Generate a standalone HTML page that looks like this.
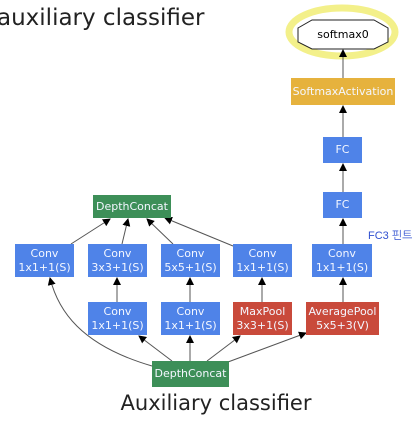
<!DOCTYPE html>
<html><head><style>
body{margin:0;width:412px;height:429px;background:#fff;overflow:hidden;position:relative;font-family:"DejaVu Sans","Liberation Sans",sans-serif}
.b{position:absolute;color:#f4f7ff;font-size:11px;text-align:center;display:flex;flex-direction:column;justify-content:center;line-height:14px;white-space:nowrap}
.bl{background:#4f83e8}.g{background:#3d8f58}.r{background:#c94a3b}.o{background:#e6b23d}
</style></head><body>
<div style="position:absolute;left:-3px;top:5px;font-size:23px;color:#222;white-space:nowrap">auxiliary classifier</div>
<svg width="412" height="429" style="position:absolute;left:0;top:0">
<defs><marker id="a" markerWidth="8" markerHeight="8" refX="7" refY="4" orient="auto" markerUnits="userSpaceOnUse"><path d="M0,0L8,4L0,8z" fill="#000"/></marker></defs>
<ellipse cx="342" cy="32" rx="53" ry="24" fill="none" stroke="#f3f08a" stroke-width="7"/>
<polygon points="312,20 374,20 388,28 388,42 374,49 312,49 298,42 298,28" fill="#fff" stroke="#222" stroke-width="1"/>
<text x="343" y="38" font-size="11" text-anchor="middle" font-family="DejaVu Sans,sans-serif">softmax0</text>
<g stroke="#555" stroke-width="1" fill="none" marker-end="url(#a)">
<line x1="343" y1="78" x2="343" y2="50"/>
<line x1="343" y1="137" x2="343" y2="106"/>
<line x1="343" y1="192" x2="343" y2="164"/>
<line x1="343" y1="244" x2="343" y2="219"/>
<line x1="343" y1="302" x2="343" y2="278"/>
<line x1="262" y1="302" x2="262" y2="278"/>
<line x1="190" y1="302" x2="190" y2="278"/>
<line x1="117" y1="302" x2="117" y2="278"/>
<line x1="71" y1="244" x2="110" y2="219"/>
<line x1="122" y1="244" x2="128" y2="219"/>
<line x1="173" y1="244" x2="147" y2="219"/>
<line x1="233" y1="246" x2="165" y2="218"/>
<line x1="190" y1="361" x2="190" y2="336"/>
<line x1="172" y1="361" x2="139" y2="336"/>
<line x1="207" y1="361" x2="240" y2="336"/>
<line x1="228" y1="362" x2="306" y2="333"/>
<path d="M152,366 C80,345 58,310 50,278"/>
</g>
</svg>
<div class="b o" style="left:291px;top:78px;width:104px;height:27px">SoftmaxActivation</div>
<div class="b bl" style="left:323px;top:137px;width:39px;height:26px">FC</div>
<div class="b bl" style="left:323px;top:192px;width:39px;height:26px">FC</div>
<div class="b g" style="left:93px;top:195px;width:78px;height:23px">DepthConcat</div>
<div class="b bl" style="left:15px;top:244px;width:59px;height:33px">Conv<br>1x1+1(S)</div>
<div class="b bl" style="left:88px;top:244px;width:59px;height:33px">Conv<br>3x3+1(S)</div>
<div class="b bl" style="left:161px;top:244px;width:59px;height:33px">Conv<br>5x5+1(S)</div>
<div class="b bl" style="left:233px;top:244px;width:59px;height:33px">Conv<br>1x1+1(S)</div>
<div class="b bl" style="left:312px;top:244px;width:60px;height:33px">Conv<br>1x1+1(S)</div>
<div class="b bl" style="left:88px;top:302px;width:59px;height:33px">Conv<br>1x1+1(S)</div>
<div class="b bl" style="left:161px;top:302px;width:59px;height:33px">Conv<br>1x1+1(S)</div>
<div class="b r" style="left:233px;top:302px;width:59px;height:33px">MaxPool<br>3x3+1(S)</div>
<div class="b r" style="left:306px;top:302px;width:73px;height:33px">AveragePool<br>5x5+3(V)</div>
<div class="b g" style="left:152px;top:361px;width:77px;height:26px">DepthConcat</div>
<div style="position:absolute;left:368px;top:229px;font-size:11px;color:#3050d0;white-space:nowrap;font-family:'Liberation Sans','NanumGothic',sans-serif">FC3 핀트</div>
<div style="position:absolute;left:0;width:432px;top:391px;text-align:center;font-size:21px;color:#222;white-space:nowrap">Auxiliary classifier</div>
</body></html>
